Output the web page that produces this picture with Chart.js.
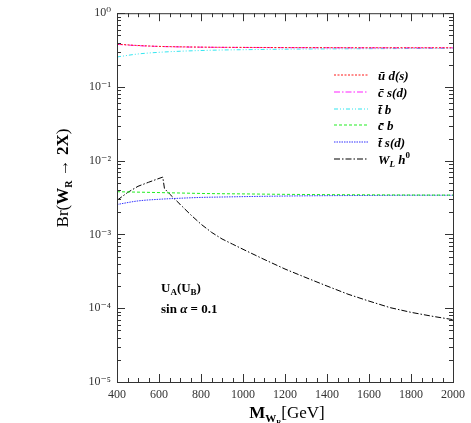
<!DOCTYPE html>
<html>
<head>
<meta charset="utf-8">
<script src="https://cdn.jsdelivr.net/npm/chart.js@4.4.1/dist/chart.umd.min.js"></script>
<style>
  html, body { margin: 0; padding: 0; background: #fff; }
</style>
</head>
<body>
<canvas id="chart" width="471" height="423"></canvas>
<script>
// W_R mass grid (GeV) for the flat channels
const massGrid = [400, 500, 600, 700, 800, 900, 1000, 1200, 1400, 1600, 1800, 2000];
const brUD = [0.38, 0.365, 0.355, 0.35, 0.347, 0.345, 0.344, 0.342, 0.341, 0.34, 0.34, 0.34];
const brCS = [0.378, 0.363, 0.354, 0.349, 0.346, 0.344, 0.343, 0.341, 0.34, 0.339, 0.339, 0.339];
const brTB = [0.255, 0.28, 0.295, 0.305, 0.312, 0.317, 0.32, 0.325, 0.328, 0.33, 0.332, 0.333];
const brCB = [0.0038, 0.00375, 0.0037, 0.00365, 0.0036, 0.00357, 0.00355, 0.0035, 0.00347, 0.00345, 0.00343, 0.00342];
const brTS = [0.00255, 0.00285, 0.003, 0.0031, 0.00318, 0.00322, 0.00326, 0.00332, 0.00336, 0.00338, 0.0034, 0.0034];

// W_L h0 channel has a kink near 620 GeV
const massWh = [400, 450, 500, 550, 600, 618, 626, 650, 700, 750, 800, 850, 900, 950, 1000, 1100, 1200, 1300, 1400, 1500, 1600, 1700, 1800, 1900, 2000];
const brWh = [0.0029, 0.0037, 0.0045, 0.0051, 0.00575, 0.006, 0.0042, 0.00355, 0.00257, 0.00186, 0.00138, 0.00107, 0.00087, 0.00074, 0.00063, 0.00046, 0.00034, 0.00026, 0.0002, 0.000155, 0.000125, 0.000102, 0.000088, 0.000078, 0.00007];

const legendLabels = ['\u016B d(s)', 'c\u0304 s(d)', 't\u0304 b', 'c\u0304 b', 't\u0304 s(d)', 'W'];

const xTicks = [400, 600, 800, 1000, 1200, 1400, 1600, 1800, 2000];
const yDecades = [-5, -4, -3, -2, -1, 0];

const SERIF = "'Liberation Serif', 'DejaVu Serif', serif";
const SUP = {'0': '\u2070', '1': '\u00B9', '2': '\u00B2', '3': '\u00B3', '4': '\u2074', '5': '\u2075', '-': '\u207B'};

function pts(xs, ys) {
    return xs.map((x, i) => ({x: x, y: ys[i]}));
}

function series(label, xs, ys, color, dash, smooth = true) {
    return {
        label: label,
        data: pts(xs, ys),
        borderColor: color,
        borderWidth: 1,
        borderDash: dash,
        pointRadius: 0,
        fill: false,
        tension: 0,
        cubicInterpolationMode: smooth ? 'monotone' : 'default'
    };
}

// draw a run of text pieces [text, font, dy]
function drawRich(ctx, parts, x, y, center) {
    let w = 0;
    parts.forEach(p => { ctx.font = p[1]; w += ctx.measureText(p[0]).width; });
    let cx = center ? x - w / 2 : x;
    parts.forEach(p => {
        ctx.font = p[1];
        ctx.fillText(p[0], cx, y + (p[2] || 0));
        cx += ctx.measureText(p[0]).width;
    });
}

const framePlugin = {
    id: 'frame',
    afterDraw(chart) {
        const ctx = chart.ctx;
        const a = chart.chartArea;
        const xs = chart.scales.x, ys = chart.scales.y;
        ctx.save();
        ctx.strokeStyle = '#333';
        ctx.lineWidth = 1;
        ctx.setLineDash([]);
        ctx.strokeRect(a.left + 0.5, a.top + 0.5, a.right - a.left, a.bottom - a.top);

        ctx.beginPath();
        for (let v = 400; v <= 2000; v += 50) {
            const px = Math.round(xs.getPixelForValue(v)) + 0.5;
            const len = (v % 200 === 0) ? 8 : 4;
            ctx.moveTo(px, a.bottom); ctx.lineTo(px, a.bottom - len);
            ctx.moveTo(px, a.top); ctx.lineTo(px, a.top + len);
        }
        yDecades.forEach(e => {
            for (let m = 1; m <= 9; m++) {
                if (e === 0 && m > 1) break;
                const py = Math.round(ys.getPixelForValue(m * Math.pow(10, e))) + 0.5;
                const len = (m === 1) ? 8 : 4;
                ctx.moveTo(a.left, py); ctx.lineTo(a.left + len, py);
                ctx.moveTo(a.right, py); ctx.lineTo(a.right - len, py);
            }
        });
        ctx.stroke();

        // legend
        const ds = chart.data.datasets;
        ctx.textBaseline = 'alphabetic';
        ctx.fillStyle = '#000';
        ds.forEach((d, i) => {
            const ry = 75 + i * 16.8;
            ctx.strokeStyle = d.borderColor;
            ctx.lineWidth = 1.2;
            ctx.setLineDash(d.borderDash);
            ctx.beginPath();
            ctx.moveTo(334, Math.round(ry));
            ctx.lineTo(368, Math.round(ry));
            ctx.stroke();
            ctx.setLineDash([]);
            const f = "bold italic 13px " + SERIF;
            if (i === 5) {
                drawRich(ctx, [['W', f], ['L', "bold italic 9px " + SERIF, 3], [' h', f], ['0', "bold 9px " + SERIF, -6]], 378, ry + 5, false);
            } else {
                drawRich(ctx, [[legendLabels[i], f]], 378, ry + 5, false);
            }
        });

        // annotation
        const b13 = "bold 13px " + SERIF, b9 = "bold 9px " + SERIF;
        drawRich(ctx, [['U', b13], ['A', b9, 3], ['(U', b13], ['B', b9, 3], [')', b13]], 161, 292, false);
        drawRich(ctx, [['sin ', b13], ['\u03B1', "bold italic 13px " + SERIF], [' = 0.1', b13]], 161, 313, false);

        // axis titles
        const r17 = "17px " + SERIF, bb17 = "bold 17px " + SERIF;
        drawRich(ctx, [['M', bb17], ['W', "bold 11px " + SERIF, 4], ['R', "bold 7px " + SERIF, 6], ['[GeV]', r17]], 287, 418, true);
        ctx.save();
        ctx.translate(68, 178);
        ctx.rotate(-Math.PI / 2);
        drawRich(ctx, [['Br(', r17], ['W', bb17], ['R', "bold 10px " + SERIF, 4], [' \u2192 ', r17], ['2X', bb17], [')', r17]], 0, 0, true);
        ctx.restore();
        ctx.restore();
    }
};

new Chart(document.getElementById('chart'), {
    type: 'line',
    data: {
        datasets: [
            series('ud', massGrid, brUD, '#ff1a1a', [2, 1.5]),
            series('cs', massGrid, brCS, '#ff22ff', [6, 2, 1.5, 2]),
            series('tb', massGrid, brTB, '#33e6f0', [4, 2, 1, 2, 1, 2]),
            series('cb', massGrid, brCB, '#22ee22', [3, 2]),
            series('ts', massGrid, brTS, '#3333ff', [1.5, 1]),
            series('Wh', massWh, brWh, '#000000', [6, 2, 1.5, 2], false)
        ]
    },
    options: {
        responsive: false,
        animation: false,
        devicePixelRatio: 1,
        layout: { padding: { left: 0, right: 17, top: 10, bottom: 0 } },
        plugins: { legend: { display: false }, tooltip: { enabled: false } },
        scales: {
            x: {
                type: 'linear',
                min: 400,
                max: 2000,
                afterBuildTicks: (s) => { s.ticks = xTicks.map(v => ({value: v})); },
                afterFit: (s) => { s.height = 41; },
                grid: { display: false, drawTicks: false },
                border: { display: false },
                ticks: {
                    padding: 6,
                    color: '#333',
                    font: { family: SERIF, size: 12 },
                    maxRotation: 0,
                    callback: (v) => String(v)
                }
            },
            y: {
                type: 'logarithmic',
                min: 1e-5,
                max: 1,
                afterBuildTicks: (s) => { s.ticks = yDecades.map(e => ({value: Math.pow(10, e)})); },
                afterFit: (s) => { s.width = 117; },
                grid: { display: false, drawTicks: false },
                border: { display: false },
                ticks: {
                    padding: 6,
                    color: '#333',
                    autoSkip: false,
                    font: { family: SERIF, size: 12 },
                    callback: (v) => {
                        const e = Math.round(Math.log10(v));
                        return '10' + String(e).split('').map(c => SUP[c]).join('');
                    }
                }
            }
        }
    },
    plugins: [framePlugin]
});
</script>
</body>
</html>
